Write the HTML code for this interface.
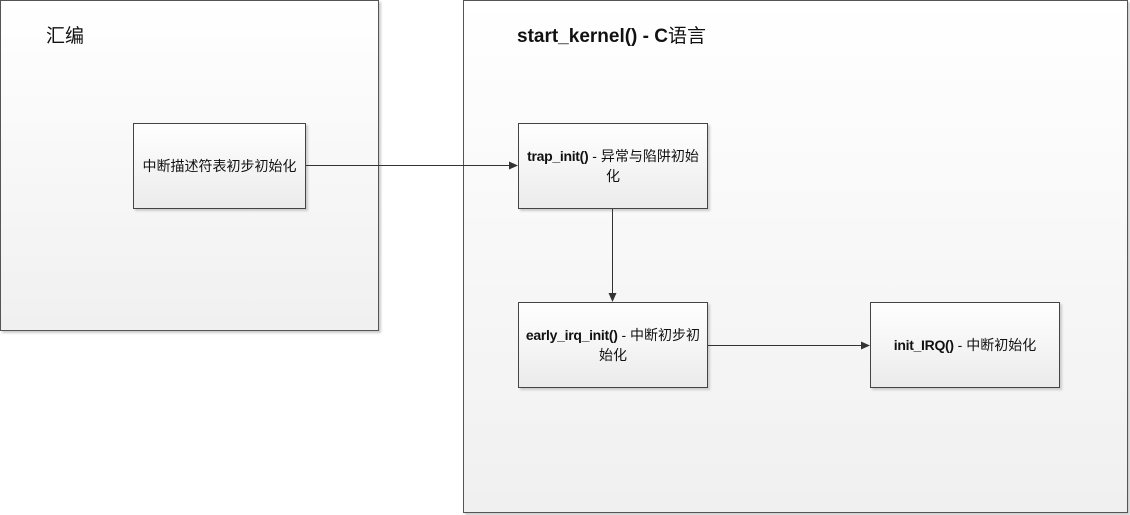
<!DOCTYPE html>
<html><head><meta charset="utf-8"><style>
body{margin:0;width:1130px;height:515px;background:#fff;position:relative;overflow:hidden;font-family:"Liberation Sans","Noto Sans CJK SC",sans-serif;}
.c{position:absolute;border:1px solid #555;background:linear-gradient(#fff,#f0f0f0);box-shadow:2px 2px 2px #ccc;box-sizing:border-box;}
.n{position:absolute;border:1px solid #444;background:linear-gradient(#fff,#ebebeb);box-shadow:2px 2px 2px #ccc;box-sizing:border-box;display:flex;align-items:center;justify-content:center;text-align:center;font-size:14px;color:#111;line-height:20px;padding:0 4px;}
.t{position:absolute;font-size:19px;color:#111;}
b{font-weight:bold;letter-spacing:-0.3px}
</style></head><body>
<div class="c" style="left:0;top:0;width:379px;height:331px"></div>
<div class="c" style="left:463px;top:0;width:665px;height:513px"></div>
<div class="t" style="left:46px;top:21px">汇编</div>
<div class="t" style="left:517px;top:21px;font-weight:bold">start_kernel() - C<span style="font-weight:normal">语言</span></div>
<div class="n" style="left:133px;top:123px;width:173px;height:86px">中断描述符表初步初始化</div>
<div class="n" style="left:518px;top:123px;width:190px;height:86px"><span><b>trap_init()</b> - 异常与陷阱初始化</span></div>
<div class="n" style="left:518px;top:302px;width:190px;height:86px"><span><b>early_irq_init()</b> - 中断初步初始化</span></div>
<div class="n" style="left:870px;top:302px;width:190px;height:86px"><span><b>init_IRQ()</b> - 中断初始化</span></div>
<svg width="1130" height="515" style="position:absolute;left:0;top:0">
<g stroke="#333" fill="none"><path d="M306 165.5H510"/><path d="M612.5 209V295"/><path d="M708 345.5H862"/></g>
<g fill="#333"><path d="M518 165.5l-9-4v8z"/><path d="M612.5 302l-4-9h8z"/><path d="M870 345.5l-9-4v8z"/></g>
</svg>
</body></html>
